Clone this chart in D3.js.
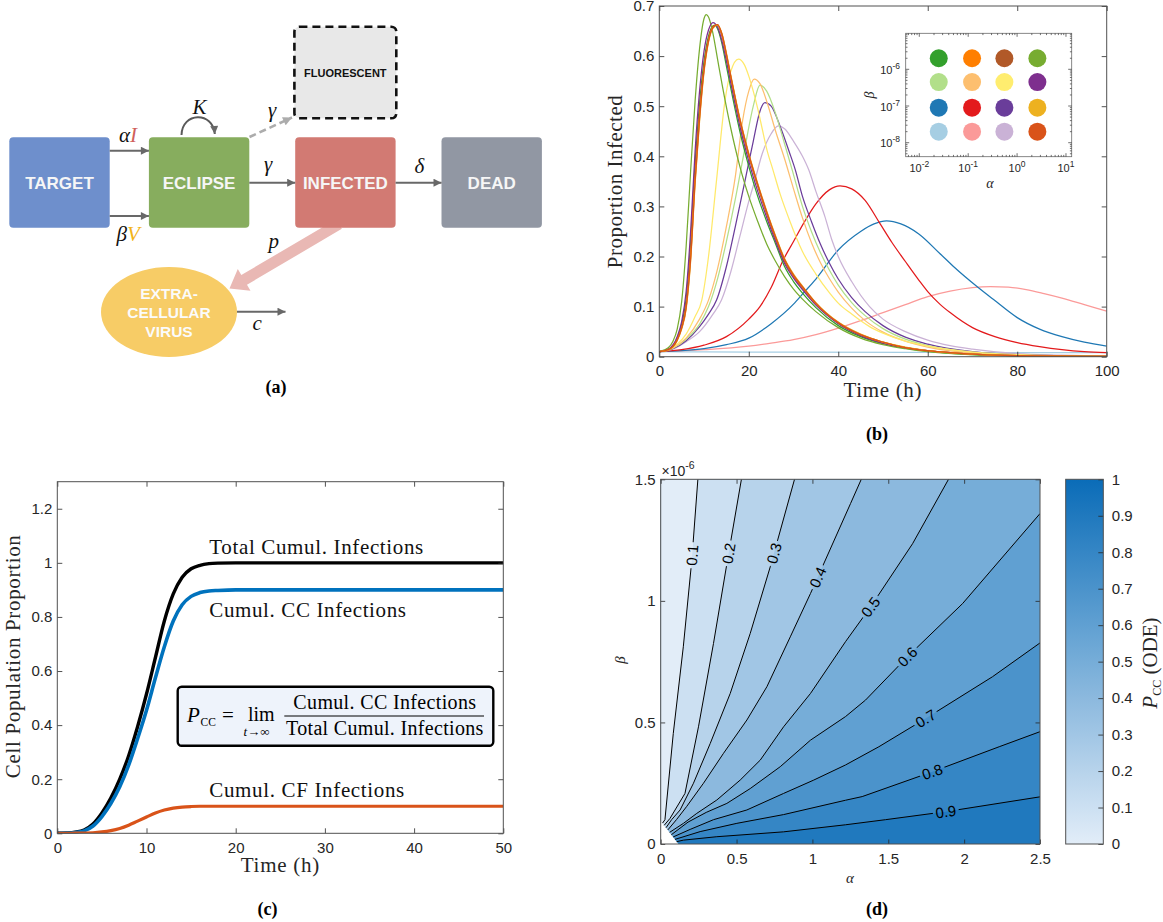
<!DOCTYPE html>
<html>
<head>
<meta charset="utf-8">
<script src="https://cdn.jsdelivr.net/npm/d3@7/dist/d3.min.js"></script>
<style>
html,body{margin:0;padding:0;background:#fff;}
svg{display:block;}
</style>
</head>
<body>
<svg id="fig" width="1163" height="922" xmlns="http://www.w3.org/2000/svg"></svg>
<script>
// ======================= DATA =======================
// ---- Panel (b): proportion infected vs time, [time (h), proportion] ----
const bLightBlue  = [[0,.01],[10,.0095],[30,.009],[60,.0085],[100,.008]];
const bPink       = [[0,.01],[10,.014],[20,.021],[25,.027],[30,.034],[35,.044],[40,.057],[45,.072],[50,.088],[55,.104],[60,.12],[65,.131],[70,.138],[74,.14],[78,.139],[82,.134],[86,.126],[90,.117],[95,.104],[100,.091]];
const bBlue       = [[0,.01],[5,.012],[10,.016],[15,.024],[20,.037],[25,.066],[30,.105],[32.2,.127],[35,.155],[40,.213],[45,.25],[48,.265],[50.8,.271],[54,.265],[58,.245],[62.7,.206],[66,.178],[71,.14],[75,.112],[80,.078],[85,.055],[90,.04],[95,.029],[100,.021]];
const bRed        = [[0,.01],[5,.014],[10,.023],[15,.04],[20,.075],[22.5,.1],[25,.138],[27.7,.193],[30,.23],[32.5,.27],[35,.305],[38,.333],[40.4,.341],[43,.335],[46,.312],[49.3,.266],[52,.228],[55,.19],[58,.153],[60,.13],[62.7,.105],[65,.088],[70,.058],[75,.04],[80,.028],[85,.02],[90,.014],[95,.01],[100,.008]];
const bLavender   = [[0,.01],[3,.015],[6,.03],[9,.05],[12,.085],[13.9,.113],[16,.17],[18,.24],[20,.31],[21.4,.353],[23,.405],[25,.445],[26.6,.4605],[28,.455],[30,.43],[32,.4],[33.4,.373],[35,.33],[37,.28],[38.5,.235],[40,.2],[43,.15],[47,.1],[50,.075],[55,.05],[60,.033],[65,.022],[70,.015],[80,.006],[90,.003],[100,.001]];
const bPurple2    = [[0,.01],[3,.016],[6,.032],[9,.06],[11,.085],[12.8,.113],[15,.18],[17,.26],[19.2,.353],[21,.43],[22.5,.49],[23.6,.507],[25,.5],[27,.46],[29,.41],[30.4,.373],[32,.32],[34,.27],[36,.225],[38,.187],[40,.155],[43,.118],[46,.09],[50,.062],[55,.039],[60,.025],[70,.01],[80,.004],[100,.0008]];
const bLightGreen = [[0,.01],[3,.017],[6,.035],[9,.065],[11,.1],[13,.155],[15,.23],[17,.315],[19,.41],[21,.5],[22.5,.542],[24,.53],[26,.485],[28,.425],[29.7,.373],[32,.3],[34,.25],[36,.208],[38,.173],[40,.143],[43,.108],[46,.082],[50,.056],[55,.035],[60,.022],[70,.009],[80,.003],[100,.0006]];
const bLightOrange= [[0,.01],[3,.017],[6,.037],[9,.075],[11,.113],[13,.175],[15,.26],[17,.36],[18.6,.47],[20,.53],[21.2,.554],[22.5,.545],[24,.51],[26,.45],[28,.395],[30,.335],[32,.277],[34,.228],[36,.188],[38,.156],[40,.129],[43,.097],[46,.072],[50,.049],[55,.031],[60,.019],[70,.007],[80,.003],[100,.0005]];
const bYellow     = [[0,.01],[2,.014],[4,.025],[6,.045],[8,.08],[9.5,.113],[11,.2],[12.8,.353],[14.7,.512],[16,.57],[17.7,.594],[19,.583],[20,.56],[21,.53],[22,.495],[23,.455],[24,.415],[25.4,.373],[27,.325],[29,.275],[32,.21],[35,.165],[38,.128],[40,.107],[43,.085],[47,.06],[50,.047],[55,.031],[60,.021],[65,.014],[70,.009],[80,.004],[100,.0008]];
const bDarkGreen  = [[0,.01],[2,.014],[4,.037],[5,.065],[6,.115],[7,.225],[8,.385],[9,.505],[10,.59],[11,.64],[12,.66],[12.5,.662],[13,.655],[14,.625],[15,.58],[16,.535],[18,.45],[20,.38],[22,.32],[24,.27],[26,.225],[28,.18],[30,.15],[32,.127],[35,.098],[40,.062],[45,.04],[50,.026],[55,.017],[60,.011],[70,.004],[80,.0015],[100,.0003]];
const bBrown      = [[0,.01],[2,.014],[4,.035],[5,.06],[6,.105],[7,.21],[8,.37],[9,.49],[10,.58],[11,.635],[12,.66],[13,.662],[14,.64],[15,.6],[16,.555],[18,.47],[20,.4],[22,.34],[24,.285],[26,.235],[28,.19],[30,.16],[32,.137],[35,.105],[40,.067],[45,.043],[50,.028],[55,.018],[60,.012],[70,.005],[80,.002],[100,.0005]];
const bOliveGreen = [[0,.01],[2,.018],[3,.03],[4,.055],[5,.11],[6,.22],[7,.37],[8,.51],[9,.615],[10,.675],[10.5,.683],[11,.678],[12,.645],[13,.595],[14,.545],[16,.455],[18,.38],[20,.32],[22,.27],[24,.225],[26,.19],[28,.16],[30,.135],[32,.115],[35,.09],[40,.058],[45,.037],[50,.024],[55,.016],[60,.01],[70,.004],[80,.0015],[100,.0003]];
const bPurple1    = [[0,.01],[2,.015],[4,.04],[5,.07],[6,.13],[7,.25],[8,.41],[9,.53],[10,.61],[11,.652],[12,.667],[13,.658],[14,.63],[15,.59],[16,.545],[18,.46],[20,.39],[22,.33],[24,.278],[26,.23],[28,.186],[30,.157],[32,.134],[35,.103],[40,.066],[45,.042],[50,.027],[55,.018],[60,.012],[70,.005],[80,.002],[100,.0005]];
const bOrange     = [[0,.01],[2,.014],[4,.034],[5,.058],[6,.1],[7,.2],[8,.355],[9,.48],[10,.575],[11,.632],[12,.658],[13,.663],[14,.643],[15,.603],[16,.558],[18,.473],[20,.403],[22,.343],[24,.288],[26,.238],[28,.193],[30,.162],[32,.139],[35,.106],[40,.068],[45,.044],[50,.029],[55,.018],[60,.012],[70,.005],[80,.002],[100,.0005]];
const bGold       = [[0,.01],[2,.013],[4,.032],[5,.055],[6,.095],[7,.19],[8,.345],[9,.47],[10,.568],[11,.628],[12,.656],[13,.662],[14,.645],[15,.606],[16,.561],[18,.476],[20,.406],[22,.346],[24,.291],[26,.241],[28,.196],[30,.165],[32,.141],[35,.108],[40,.069],[45,.045],[50,.029],[55,.019],[60,.012],[70,.005],[80,.002],[100,.0005]];
const bDarkOrange = [[0,.01],[2,.014],[4,.033],[5,.057],[6,.098],[7,.195],[8,.35],[9,.475],[10,.572],[11,.63],[12,.657],[13,.663],[14,.644],[15,.604],[16,.559],[18,.474],[20,.404],[22,.344],[24,.289],[26,.239],[28,.194],[30,.163],[32,.14],[35,.107],[40,.068],[45,.044],[50,.029],[55,.018],[60,.012],[70,.005],[80,.002],[100,.0005]];
const bSeries = [bLightBlue,bPink,bBlue,bRed,bLavender,bPurple2,bLightGreen,bLightOrange,bYellow,bDarkGreen,bBrown,bOliveGreen,bPurple1,bOrange,bGold,bDarkOrange];
const bSeriesColors = ["#a6cee3","#fb9a99","#1f78b4","#e31a1c","#cab2d6","#6a3d9a","#b2df8a","#fdbf6f","#ffe96a","#33a02c","#b15928","#77ac30","#7e2f8e","#ff7f00","#edb120","#d95319"];
const bXTicks = [0,20,40,60,80,100];
const bYTicks = [0,0.1,0.2,0.3,0.4,0.5,0.6,0.7];
// inset parameter grid
const insetAlpha = [0.025,0.12,0.55,2.6];
const insetBeta  = [2e-6,4.5e-7,9e-8,2e-8];
const insetColors = [
  ["#33a02c","#ff7f00","#b15928","#77ac30"],
  ["#b2df8a","#fdbf6f","#ffed6f","#7e2f8e"],
  ["#1f78b4","#e31a1c","#6a3d9a","#edb120"],
  ["#a6cee3","#fb9a99","#cab2d6","#d95319"]];
const insetXTickExp = [-2,-1,0,1];
const insetYTickExp = [-6,-7,-8];

// ---- Panel (c): cumulative infections ----
const cTime  = [0,1,2,3,4,5,6,7,8,9,10,11,12,13,14,15,16,17,18,20,25,30,40,50];
const cTotal = [0,.001,.004,.012,.034,.075,.13,.2,.287,.394,.515,.65,.785,.885,.947,.978,.991,.997,.999,1,1,1,1,1];
const cCC    = [0,.0006,.003,.009,.027,.062,.11,.172,.252,.35,.455,.575,.69,.785,.845,.876,.89,.896,.898,.9,.9,.9,.9,.9];
const cCF    = [0,.0001,.0004,.001,.002,.005,.01,.018,.03,.045,.06,.075,.086,.093,.097,.099,.1,.1,.1,.1,.1,.1,.1,.1];
const cLabels = ["Total Cumul. Infections","Cumul. CC Infections","Cumul. CF Infections"];
const cXTicks = [0,10,20,30,40,50];
const cYTicks = [0,0.2,0.4,0.6,0.8,1,1.2];

// ---- Panel (d): P_CC contour lines, [alpha, beta (x1e-6)] ----
const dLevels = [0.1,0.2,0.3,0.4,0.5,0.6,0.7,0.8,0.9];
const dC01 = [[0.012,0.086],[0.028,0.10],[0.083,0.455],[0.149,0.811],[0.205,1.167],[0.245,1.5]];
const dC02 = [[0.023,0.077],[0.061,0.105],[0.16,0.208],[0.249,0.482],[0.348,0.825],[0.44,1.167],[0.532,1.5]];
const dC03 = [[0.035,0.067],[0.072,0.1],[0.128,0.14],[0.216,0.25],[0.326,0.413],[0.458,0.619],[0.59,0.866],[0.722,1.14],[0.882,1.5]];
const dC04 = [[0.047,0.058],[0.105,0.101],[0.172,0.155],[0.282,0.25],[0.414,0.373],[0.568,0.51],[0.7,0.647],[0.854,0.852],[0.987,1.03],[1.251,1.40],[1.322,1.5]];
const dC05 = [[0.059,0.048],[0.15,0.085],[0.238,0.126],[0.37,0.181],[0.524,0.263],[0.656,0.345],[0.81,0.482],[0.987,0.619],[1.218,0.832],[1.383,0.975],[1.66,1.235],[1.897,1.5]];
const dC06 = [[0.07,0.038],[0.18,0.09],[0.3,0.13],[0.436,0.167],[0.59,0.228],[0.788,0.318],[0.987,0.427],[1.218,0.524],[1.35,0.592],[1.626,0.77],[1.99,0.989],[2.5,1.359]];
const dC07 = [[0.082,0.029],[0.194,0.06],[0.348,0.1],[0.568,0.14],[0.81,0.208],[1.009,0.263],[1.218,0.325],[1.438,0.4],[1.746,0.516],[2.187,0.688],[2.5,0.827]];
const dC08 = [[0.094,0.019],[0.26,0.051],[0.502,0.085],[0.81,0.121],[1.218,0.18],[1.328,0.195],[1.79,0.297],[2.231,0.4],[2.5,0.462]];
const dC09 = [[0.105,0.0096],[0.15,0.016],[0.37,0.03],[0.81,0.05],[1.218,0.079],[1.482,0.1],[1.879,0.133],[2.5,0.194]];
const dContours = [dC01,dC02,dC03,dC04,dC05,dC06,dC07,dC08,dC09];
const dLabelPos = [[0.205,1.188],[0.454,1.195],[0.749,1.195],[1.053,1.092],[1.383,0.975],[1.626,0.77],[1.746,0.516],[1.79,0.297],[1.879,0.133]];
const dBlankCorner = [[0,0.096],[0,0],[0.117,0]];
const dXTicks = [0,0.5,1,1.5,2,2.5];
const dYTicks = [0,0.5,1,1.5];
const cbTicks = [0,0.1,0.2,0.3,0.4,0.5,0.6,0.7,0.8,0.9,1];

// ======================= DRAWING =======================
const SANS = "'Liberation Sans', Arial, Helvetica, sans-serif";
const SERIF = "'Liberation Serif', 'Times New Roman', serif";
const AXC = "#262626";
const FRAME = "#505050";
const svg = d3.select("#fig");
const defs = svg.append("defs");

function marker(id, color, w, h){
  defs.append("marker").attr("id",id).attr("viewBox","0 0 10 10").attr("refX",10).attr("refY",5)
    .attr("markerUnits","userSpaceOnUse").attr("markerWidth",w).attr("markerHeight",h).attr("orient","auto")
    .append("path").attr("d","M0,0L10,5L0,10z").attr("fill",color);
}
marker("arrDark","#686868",10,8);
marker("arrLight","#acacac",10,9);

function styleAxis(sel){
  sel.select(".domain").remove();
  sel.selectAll(".tick line").attr("stroke",AXC).attr("stroke-width",0.8);
  sel.selectAll(".tick text").attr("fill",AXC).attr("font-family",SANS).attr("font-size",15);
}
function frameAxes(g, x, y, xt, yt, len, fx, fy){
  const [x0,x1] = x.range(), [y0,y1] = y.range();
  const b = g.append("g").attr("transform",`translate(0,${y0})`)
    .call(d3.axisBottom(x).tickValues(xt).tickSizeInner(-len).tickSizeOuter(0).tickPadding(9).tickFormat(fx));
  styleAxis(b);
  const t = g.append("g").attr("transform",`translate(0,${y1})`)
    .call(d3.axisTop(x).tickValues(xt).tickSizeInner(-len).tickSizeOuter(0).tickFormat(""));
  styleAxis(t);
  const l = g.append("g").attr("transform",`translate(${x0},0)`)
    .call(d3.axisLeft(y).tickValues(yt).tickSizeInner(-len).tickSizeOuter(0).tickPadding(5).tickFormat(fy));
  styleAxis(l);
  const r = g.append("g").attr("transform",`translate(${x1},0)`)
    .call(d3.axisRight(y).tickValues(yt).tickSizeInner(-len).tickSizeOuter(0).tickFormat(""));
  styleAxis(r);
  g.append("rect").attr("x",x0).attr("y",y1).attr("width",x1-x0).attr("height",y0-y1)
    .attr("fill","none").attr("stroke",FRAME).attr("stroke-width",1);
}
function clip(id, x, y){
  defs.append("clipPath").attr("id",id).append("rect")
    .attr("x",x.range()[0]).attr("y",y.range()[1])
    .attr("width",x.range()[1]-x.range()[0]).attr("height",y.range()[0]-y.range()[1]);
}
function panelLabel(txt, x, y){
  svg.append("text").attr("x",x).attr("y",y).attr("text-anchor","middle")
    .attr("font-family",SERIF).attr("font-weight","bold").attr("font-size",18).text(txt);
}

// ---------------- Panel (a): diagram ----------------
(function(){
  const g = svg.append("g");
  const S=[339,224], T=[229.5,288.5];
  const dx=T[0]-S[0], dy=T[1]-S[1], L=Math.hypot(dx,dy), ux=dx/L, uy=dy/L, nx=-uy, ny=ux;
  const hl=17, hw=12.5, sw=5.6, B=[T[0]-ux*hl, T[1]-uy*hl];
  const pts=[[S[0]+nx*sw,S[1]+ny*sw],[B[0]+nx*sw,B[1]+ny*sw],[B[0]+nx*hw,B[1]+ny*hw],T,
             [B[0]-nx*hw,B[1]-ny*hw],[B[0]-nx*sw,B[1]-ny*sw],[S[0]-nx*sw,S[1]-ny*sw]];
  g.append("path").attr("d",d3.line()(pts)+"Z").attr("fill","#e9b8b4");

  const nodeNames = ["TARGET","ECLIPSE","INFECTED","DEAD"];
  const nodeFills = ["#6e8fcc","#87ad5e","#d27a73","#9197a3"];
  const nodeX = [9.3,148.9,295.2,441.5];
  nodeNames.forEach((n,i)=>{
    g.append("rect").attr("x",nodeX[i]).attr("y",137.3).attr("width",100.4).attr("height",90.4)
      .attr("rx",4).attr("fill",nodeFills[i]);
    g.append("text").attr("x",nodeX[i]+50.2).attr("y",182.5).attr("dy","0.36em").attr("text-anchor","middle")
      .attr("font-family",SANS).attr("font-weight","bold").attr("font-size",17).attr("fill","#f6f6f6").text(n);
  });
  g.append("rect").attr("x",294.4).attr("y",26.7).attr("width",101.9).attr("height",91.6).attr("rx",5)
    .attr("fill","#e8e8e8").attr("stroke","#111").attr("stroke-width",2.6).attr("stroke-dasharray","8 5");
  g.append("text").attr("x",345.3).attr("y",72.7).attr("dy","0.36em").attr("text-anchor","middle")
    .attr("font-family",SANS).attr("font-weight","bold").attr("font-size",11).attr("fill","#111").text("FLUORESCENT");
  g.append("ellipse").attr("cx",169).attr("cy",312).attr("rx",68).attr("ry",45).attr("fill","#f7cc66");
  ["EXTRA-","CELLULAR","VIRUS"].forEach((t,i)=>{
    g.append("text").attr("x",169).attr("y",293+i*19).attr("dy","0.36em").attr("text-anchor","middle")
      .attr("font-family",SANS).attr("font-weight","bold").attr("font-size",15.5).attr("fill","#fbfbfb").text(t);
  });
  const arrows = [[109.7,150.7,148.9,150.7],[109.7,216,148.9,216],[249.3,182.7,295.2,182.7],
                  [395.6,182.7,441.5,182.7],[237,311.7,285.5,311.7]];
  arrows.forEach(a=>g.append("line").attr("x1",a[0]).attr("y1",a[1]).attr("x2",a[2]).attr("y2",a[3])
    .attr("stroke","#686868").attr("stroke-width",2).attr("marker-end","url(#arrDark)"));
  g.append("line").attr("x1",249.5).attr("y1",137).attr("x2",292).attr("y2",117.5)
    .attr("stroke","#acacac").attr("stroke-width",2.6).attr("stroke-dasharray","7 4").attr("marker-end","url(#arrLight)");
  g.append("path").attr("d","M181.5,135 C182,112 213,111 214.8,134").attr("fill","none")
    .attr("stroke","#5a5a5a").attr("stroke-width",2).attr("marker-end","url(#arrDark)");
  const sym = (x,y,parts)=>{
    const t=g.append("text").attr("x",x).attr("y",y).attr("font-family",SERIF).attr("font-style","italic").attr("font-size",21);
    parts.forEach(p=>t.append("tspan").attr("fill",p[1]).text(p[0]));
  };
  sym(119,141.5,[["α","#111"],["I","#d0605a"]]);
  sym(116.5,240.5,[["β","#111"],["V","#f2b318"]]);
  sym(192.5,114.3,[["K","#111"]]);
  sym(268,117,[["γ","#111"]]);
  sym(264,171,[["γ","#111"]]);
  sym(414.5,173,[["δ","#111"]]);
  sym(268.5,248,[["p","#111"]]);
  sym(252.5,330,[["c","#111"]]);
})();
panelLabel("(a)",276,393);

// ---------------- Panel (b) ----------------
(function(){
  const x = d3.scaleLinear().domain([0,100]).range([659.3,1106.7]);
  const y = d3.scaleLinear().domain([0,0.7]).range([356.7,6]);
  const g = svg.append("g");
  clip("clipB",x,y);
  const line = d3.line().x(d=>x(d[0])).y(d=>y(d[1])).curve(d3.curveMonotoneX);
  g.append("g").attr("clip-path","url(#clipB)").selectAll("path").data(bSeries).join("path")
    .attr("d",line).attr("fill","none").attr("stroke",(d,i)=>bSeriesColors[i]).attr("stroke-width",1.25);
  frameAxes(g,x,y,bXTicks,bYTicks,5,d=>d,d=>d);
  g.append("text").attr("x",882.5).attr("y",396.5).attr("text-anchor","middle").attr("font-family",SERIF)
    .attr("font-size",21).attr("fill",AXC).attr("textLength",78).text("Time (h)");
  g.append("text").attr("transform","translate(622,181.7) rotate(-90)").attr("text-anchor","middle")
    .attr("font-family",SERIF).attr("font-size",21).attr("fill",AXC).attr("textLength",173).text("Proportion Infected");

  const xi = d3.scaleLog().domain([Math.pow(10,-2.278),Math.pow(10,1.117)]).range([905.7,1071.7]);
  const yi = d3.scaleLog().domain([Math.pow(10,-8.381),Math.pow(10,-5.019)]).range([156.7,33.3]);
  const gi = g.append("g");
  gi.append("rect").attr("x",905.7).attr("y",33.3).attr("width",166).attr("height",123.4).attr("fill","#fff")
    .attr("stroke","#6a6a6a").attr("stroke-width",0.8);
  const minorX=[], minorY=[];
  for(let k=-3;k<=1;k++) for(let m=1;m<=9;m++){const v=m*Math.pow(10,k); if(v>=xi.domain()[0]&&v<=xi.domain()[1]) minorX.push([v,m===1]);}
  for(let k=-9;k<=-5;k++) for(let m=1;m<=9;m++){const v=m*Math.pow(10,k); if(v>=yi.domain()[0]&&v<=yi.domain()[1]) minorY.push([v,m===1]);}
  minorX.forEach(([v,maj])=>{
    const L=maj?3.5:1.8;
    gi.append("line").attr("x1",xi(v)).attr("x2",xi(v)).attr("y1",156.7).attr("y2",156.7-L).attr("stroke","#333").attr("stroke-width",0.7);
    gi.append("line").attr("x1",xi(v)).attr("x2",xi(v)).attr("y1",33.3).attr("y2",33.3+L).attr("stroke","#333").attr("stroke-width",0.7);
  });
  minorY.forEach(([v,maj])=>{
    const L=maj?3.5:1.8;
    gi.append("line").attr("y1",yi(v)).attr("y2",yi(v)).attr("x1",905.7).attr("x2",905.7+L).attr("stroke","#333").attr("stroke-width",0.7);
    gi.append("line").attr("y1",yi(v)).attr("y2",yi(v)).attr("x1",1071.7).attr("x2",1071.7-L).attr("stroke","#333").attr("stroke-width",0.7);
  });
  insetXTickExp.forEach(e=>{
    const t=gi.append("text").attr("x",xi(Math.pow(10,e))).attr("y",172).attr("text-anchor","middle")
      .attr("font-family",SANS).attr("font-size",11).attr("fill",AXC);
    t.append("tspan").text("10"); t.append("tspan").attr("dy",-5).attr("font-size",8.5).text(String(e));
  });
  insetYTickExp.forEach(e=>{
    const t=gi.append("text").attr("x",900).attr("y",yi(Math.pow(10,e))+4.5).attr("text-anchor","end")
      .attr("font-family",SANS).attr("font-size",11).attr("fill",AXC);
    t.append("tspan").text("10"); t.append("tspan").attr("dy",-5).attr("font-size",8.5).text(String(e));
  });
  gi.append("text").attr("x",990).attr("y",188).attr("text-anchor","middle").attr("font-family",SERIF)
    .attr("font-style","italic").attr("font-size",14).attr("fill",AXC).text("α");
  gi.append("text").attr("transform","translate(874,95) rotate(-90)").attr("text-anchor","middle").attr("font-family",SERIF)
    .attr("font-style","italic").attr("font-size",14).attr("fill",AXC).text("β");
  const dots=[];
  insetBeta.forEach((b,r)=>insetAlpha.forEach((a,c)=>dots.push({a,b,col:insetColors[r][c]})));
  gi.selectAll("circle").data(dots).join("circle").attr("cx",d=>xi(d.a)).attr("cy",d=>yi(d.b)).attr("r",9)
    .attr("fill",d=>d.col);
})();
panelLabel("(b)",877,440);

// ---------------- Panel (c) ----------------
(function(){
  const x = d3.scaleLinear().domain([0,50]).range([57.3,503.3]);
  const y = d3.scaleLinear().domain([0,1.3]).range([833.3,481.7]);
  const g = svg.append("g");
  clip("clipC",x,y);
  const line = d3.line().x((d,i)=>x(cTime[i])).y(d=>y(d)).curve(d3.curveMonotoneX);
  const gl = g.append("g").attr("clip-path","url(#clipC)");
  gl.append("path").attr("d",line(cTotal)).attr("fill","none").attr("stroke","#000").attr("stroke-width",3.4);
  gl.append("path").attr("d",line(cCC)).attr("fill","none").attr("stroke","#0072bd").attr("stroke-width",3.6);
  gl.append("path").attr("d",line(cCF)).attr("fill","none").attr("stroke","#d95319").attr("stroke-width",3.2);
  frameAxes(g,x,y,cXTicks,cYTicks,5,d=>d,d=>d);
  const lab = [[554,214],[616.5,196.7],[797.3,195]];
  cLabels.forEach((t,i)=>g.append("text").attr("x",209.3).attr("y",lab[i][0]).attr("font-family",SERIF)
    .attr("font-size",21).attr("fill","#111").attr("textLength",lab[i][1]).text(t));
  g.append("text").attr("x",280).attr("y",871.5).attr("text-anchor","middle").attr("font-family",SERIF)
    .attr("font-size",21).attr("fill",AXC).attr("textLength",78.6).text("Time (h)");
  g.append("text").attr("transform","translate(20,656.7) rotate(-90)").attr("text-anchor","middle")
    .attr("font-family",SERIF).attr("font-size",21).attr("fill",AXC).attr("textLength",243).text("Cell Population Proportion");
  g.append("rect").attr("x",177.7).attr("y",686.7).attr("width",315.6).attr("height",59).attr("rx",4)
    .attr("fill","#eef3fb").attr("stroke","#000").attr("stroke-width",2.4);
  g.append("text").attr("x",187).attr("y",722).attr("font-family",SERIF).attr("font-style","italic").attr("font-size",21).text("P");
  g.append("text").attr("x",200.5).attr("y",725.5).attr("font-family",SERIF).attr("font-size",11.5).text("CC");
  g.append("text").attr("x",222).attr("y",722).attr("font-family",SERIF).attr("font-size",21).text("=");
  g.append("text").attr("x",248).attr("y",721).attr("font-family",SERIF).attr("font-size",20).text("lim");
  const tl = g.append("text").attr("x",243.5).attr("y",736).attr("font-family",SERIF).attr("font-size",13);
  tl.append("tspan").attr("font-style","italic").text("t"); tl.append("tspan").text("→∞");
  g.append("line").attr("x1",284.3).attr("x2",484).attr("y1",716).attr("y2",716).attr("stroke","#000").attr("stroke-width",1);
  g.append("text").attr("x",384.7).attr("y",708.5).attr("text-anchor","middle").attr("font-family",SERIF)
    .attr("font-size",20).attr("textLength",182.7).text("Cumul. CC Infections");
  g.append("text").attr("x",384.7).attr("y",735).attr("text-anchor","middle").attr("font-family",SERIF)
    .attr("font-size",20).attr("textLength",197.3).text("Total Cumul. Infections");
})();
panelLabel("(c)",267.5,914.5);

// ---------------- Panel (d) ----------------
(function(){
  const x = d3.scaleLinear().domain([0,2.5]).range([660.7,1040]);
  const y = d3.scaleLinear().domain([0,1.5]).range([844,479.3]);
  const g = svg.append("g");
  clip("clipD",x,y);
  const cLow="#e2edf8", cHigh="#0a6cb8";
  const cmap = d3.interpolateRgb(cLow,cHigh);
  const gf = g.append("g").attr("clip-path","url(#clipD)");
  gf.append("rect").attr("x",660.7).attr("y",479.3).attr("width",379.3).attr("height",364.7).attr("fill",cmap(0.9));
  const toS = p=>[x(p[0]),y(p[1])];
  for(let i=dContours.length-1;i>=0;i--){
    const pts = dContours[i].slice();
    const end = pts[pts.length-1];
    if(end[1] < 1.5) pts.push([2.5,1.5]);
    pts.push([0,1.5]); pts.push(dBlankCorner[0]);
    gf.append("path").attr("d",d3.line()(pts.map(toS))+"Z").attr("fill",cmap(dLevels[i]-0.1));
  }
  gf.append("path").attr("d",d3.line()(dBlankCorner.map(toS))+"Z").attr("fill","#fff");
  const labels = dContours.map((pts,i)=>{
    const p = toS(dLabelPos[i]); let best=null;
    for(let j=0;j<pts.length-1;j++){
      const a=toS(pts[j]), b=toS(pts[j+1]);
      const vx=b[0]-a[0], vy=b[1]-a[1], t=Math.max(0,Math.min(1,((p[0]-a[0])*vx+(p[1]-a[1])*vy)/(vx*vx+vy*vy)));
      const q=[a[0]+t*vx,a[1]+t*vy], dd=Math.hypot(q[0]-p[0],q[1]-p[1]);
      if(!best||dd<best.dd){let ang=Math.atan2(vy,vx)*180/Math.PI; if(ang>90)ang-=180; if(ang<-90)ang+=180; best={dd,q,ang};}
    }
    return {txt:String(dLevels[i]),x:best.q[0],y:best.q[1],ang:best.ang};
  });
  const mask = defs.append("mask").attr("id","lblMask").attr("maskUnits","userSpaceOnUse")
    .attr("x",0).attr("y",0).attr("width",1163).attr("height",922);
  mask.append("rect").attr("x",0).attr("y",0).attr("width",1163).attr("height",922).attr("fill","#fff");
  labels.forEach(l=>mask.append("rect").attr("x",-13).attr("y",-7).attr("width",26).attr("height",14)
    .attr("transform",`translate(${l.x},${l.y}) rotate(${l.ang})`).attr("fill","#000"));
  gf.append("g").attr("mask","url(#lblMask)").selectAll("path").data(dContours).join("path")
    .attr("d",d=>d3.line()(d.map(toS))).attr("fill","none").attr("stroke","#000").attr("stroke-width",1);
  gf.selectAll("text.cl").data(labels).join("text").attr("class","cl")
    .attr("transform",d=>`translate(${d.x},${d.y}) rotate(${d.ang})`).attr("text-anchor","middle").attr("dy","0.36em")
    .attr("font-family",SANS).attr("font-size",15).attr("fill","#000").text(d=>d.txt);
  frameAxes(g,x,y,dXTicks,dYTicks,4.5,d=>d,d=>d);
  const mult = g.append("text").attr("x",661.5).attr("y",476).attr("font-family",SANS).attr("font-size",14).attr("fill",AXC);
  mult.append("tspan").text("×10"); mult.append("tspan").attr("dy",-7).attr("font-size",10.5).text("-6");
  g.append("text").attr("x",850).attr("y",883).attr("text-anchor","middle").attr("font-family",SERIF)
    .attr("font-style","italic").attr("font-size",15).attr("fill",AXC).text("α");
  g.append("text").attr("transform","translate(625,660) rotate(-90)").attr("text-anchor","middle").attr("font-family",SERIF)
    .attr("font-style","italic").attr("font-size",15).attr("fill",AXC).text("β");
  const yc = d3.scaleLinear().domain([0,1]).range([844,479.3]);
  const grad = defs.append("linearGradient").attr("id","cbGrad").attr("x1",0).attr("y1",1).attr("x2",0).attr("y2",0);
  d3.range(0,1.0001,0.1).forEach(s=>grad.append("stop").attr("offset",s).attr("stop-color",cmap(s)));
  g.append("rect").attr("x",1065.7).attr("y",479.3).attr("width",37.6).attr("height",364.7).attr("fill","url(#cbGrad)");
  const cb = g.append("g").attr("transform","translate(1103.3,0)")
    .call(d3.axisRight(yc).tickValues(cbTicks).tickSizeInner(-5).tickSizeOuter(0).tickPadding(8.5).tickFormat(d=>d));
  styleAxis(cb);
  g.append("rect").attr("x",1065.7).attr("y",479.3).attr("width",37.6).attr("height",364.7).attr("fill","none")
    .attr("stroke",FRAME).attr("stroke-width",1);
  const cl = g.append("text").attr("transform","translate(1157,663) rotate(-90)").attr("text-anchor","middle")
    .attr("font-family",SERIF).attr("font-size",21).attr("fill",AXC);
  cl.append("tspan").attr("font-style","italic").text("P");
  cl.append("tspan").attr("font-size",12).attr("dy",4).text("CC");
  cl.append("tspan").attr("dy",-4).text(" (ODE)");
})();
panelLabel("(d)",877,915);
</script>
</body>
</html>
